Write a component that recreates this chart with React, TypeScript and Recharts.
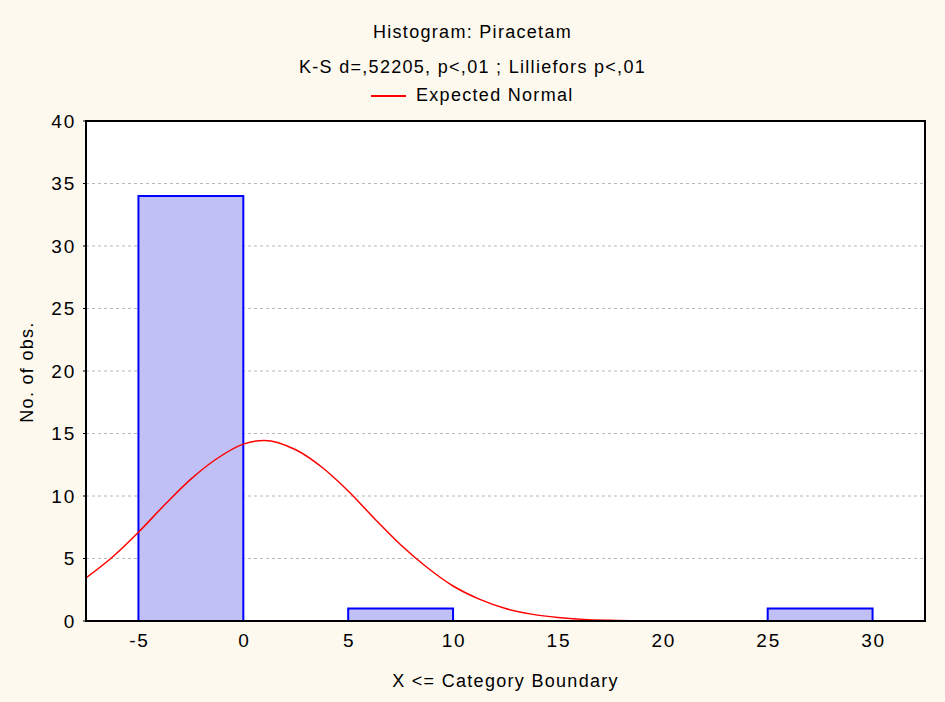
import React from "react";
import {
  ComposedChart,
  Line,
  XAxis,
  YAxis,
  CartesianGrid,
  ReferenceArea,
} from "recharts";

// Histogram bins (lower boundary, upper boundary, count)
const binLower = [-5, 0, 5, 10, 15, 20, 25];
const binUpper = [0, 5, 10, 15, 20, 25, 30];
const binCounts = [34, 0, 1, 0, 0, 0, 1];

// Expected normal curve
const curveX = [-7.5, -6.25, -5, -3.75, -2.5, -1.25, 0, 1, 2.5, 3.75, 5, 6.25, 7.5, 8.75, 10, 11.25, 12.5, 13.75, 15, 16.25, 17.5, 18.75, 20, 22.5, 25, 27.5, 30, 32.5];
const curveY = [3.45, 5.1, 7.1, 9.3, 11.35, 13.0, 14.15, 14.45, 13.7, 12.3, 10.4, 8.2, 6.1, 4.3, 2.8, 1.75, 1.0, 0.55, 0.28, 0.13, 0.06, 0.02, 0.01, 0, 0, 0, 0, 0];

const xTicks = [-5, 0, 5, 10, 15, 20, 25, 30];
const yTicks = [0, 5, 10, 15, 20, 25, 30, 35, 40];

const FONT = "'Liberation Sans', Arial, sans-serif";
const textStyle = { fontSize: 18, letterSpacing: "1.3px", whiteSpace: "pre" as const };

export default function App() {
  const data = curveX.map((x, i) => ({ x, y: curveY[i] }));
  return (
    <div
      style={{
        position: "absolute",
        left: 0,
        top: 0,
        width: 945,
        height: 702,
        background: "#fdf9ef",
        fontFamily: FONT,
        color: "#000",
      }}
    >
      <div style={{ ...textStyle, position: "absolute", left: 0, width: 945, top: 22, textAlign: "center" }}>
        Histogram: Piracetam
      </div>
      <div style={{ ...textStyle, position: "absolute", left: 0, width: 945, top: 57, textAlign: "center" }}>
        K-S d=,52205, p&lt;,01 ; Lilliefors p&lt;,01
      </div>
      <div style={{ ...textStyle, position: "absolute", left: 371, top: 85, display: "flex", alignItems: "center" }}>
        <div style={{ width: 35, height: 2, background: "#ff0000", marginRight: 10 }} />
        <span>Expected Normal</span>
      </div>
      <div
        style={{
          ...textStyle,
          position: "absolute",
          left: 27,
          top: 372,
          transform: "translate(-50%, -50%) rotate(-90deg)",
        }}
      >
        No. of obs.
      </div>
      <div style={{ ...textStyle, position: "absolute", left: 86, width: 839, top: 671, textAlign: "center" }}>
        X &lt;= Category Boundary
      </div>
      <ComposedChart
        width={945}
        height={702}
        data={data}
        margin={{ top: 121, right: 20, bottom: 51, left: 0 }}
        style={{ position: "absolute", left: 0, top: 0 }}
      >
        <CartesianGrid
          vertical={false}
          horizontal={true}
          stroke="#b8b8b8"
          strokeDasharray="3 3"
          fill="#ffffff"
          fillOpacity={1}
        />
        <XAxis
          type="number"
          dataKey="x"
          domain={[-7.5, 32.5]}
          ticks={xTicks}
          allowDataOverflow
          height={30}
          axisLine={{ stroke: "#000", strokeWidth: 2 }}
          tickLine={false}
          tickSize={6}
          tickMargin={7}
          tick={{ fill: "#000", fontSize: 19, fontFamily: FONT, letterSpacing: "1.8px", dx: 1 }}
        />
        <YAxis
          type="number"
          domain={[0, 40]}
          ticks={yTicks}
          allowDataOverflow
          width={86}
          axisLine={{ stroke: "#000", strokeWidth: 2 }}
          tickLine={{ stroke: "#000" }}
          tickSize={3}
          tickMargin={7}
          tick={{ fill: "#000", fontSize: 19, fontFamily: FONT, letterSpacing: "1.8px" }}
        />
        {binCounts.map((c, i) =>
          c > 0 ? (
            <ReferenceArea
              key={i}
              x1={binLower[i]}
              x2={binUpper[i]}
              y1={0}
              y2={c}
              fill="#c0c0f6"
              fillOpacity={1}
              stroke="#0000ff"
              strokeWidth={2}
              ifOverflow="visible"
            />
          ) : null
        )}
        <Line
          type="monotone"
          dataKey="y"
          stroke="#ff0000"
          strokeWidth={1.5}
          dot={false}
          isAnimationActive={false}
        />
        <ReferenceArea
          x1={-7.5}
          x2={32.5}
          y1={0}
          y2={40}
          fill="none"
          stroke="#000"
          strokeWidth={2}
          ifOverflow="visible"
        />
      </ComposedChart>
    </div>
  );
}
